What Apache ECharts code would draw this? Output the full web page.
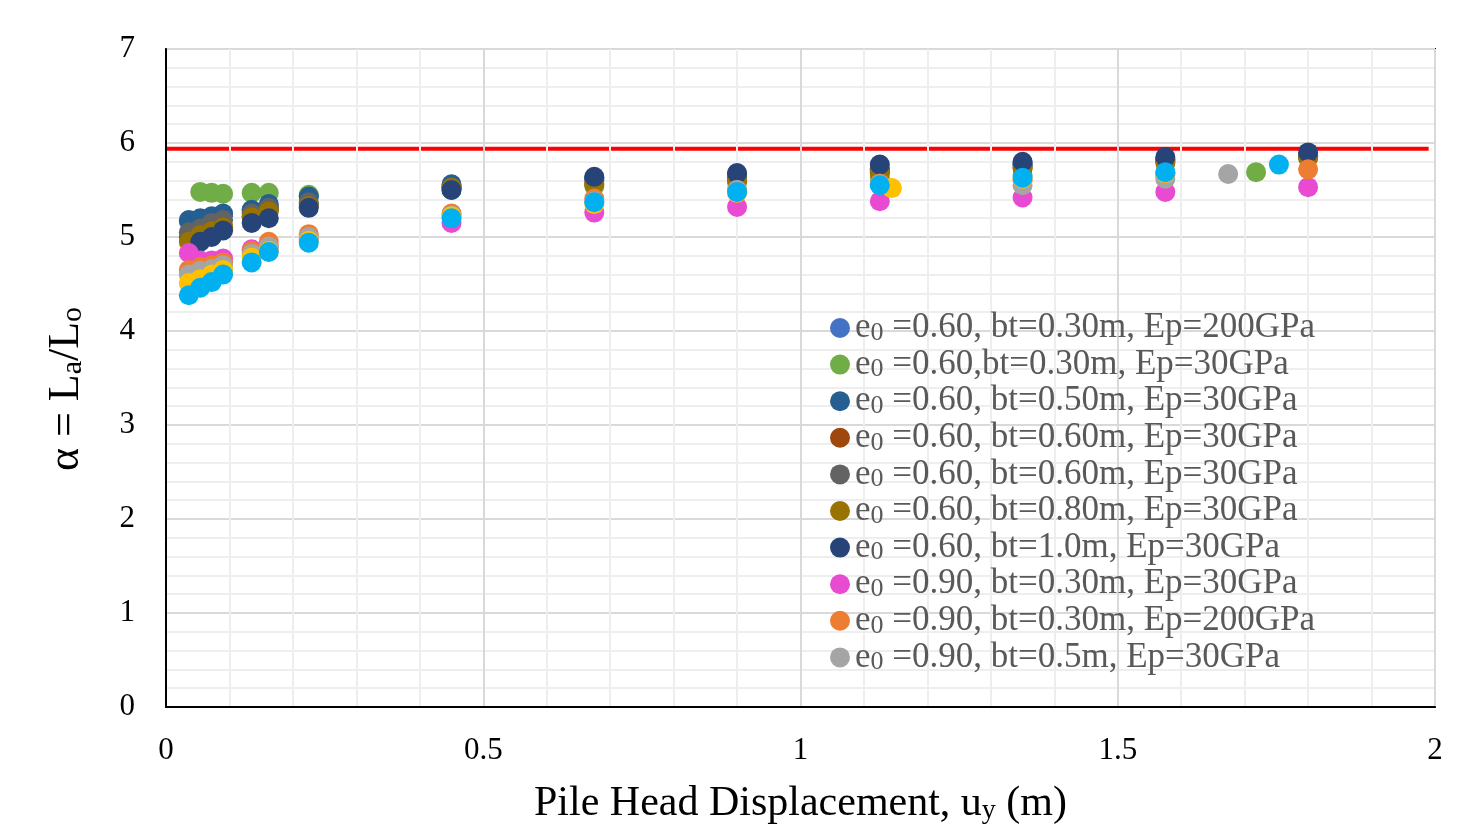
<!DOCTYPE html>
<html><head><meta charset="utf-8">
<script src="https://cdn.jsdelivr.net/npm/echarts@6/dist/echarts.min.js"></script>
<style>html,body{margin:0;padding:0;background:#fff}#c{width:1477px;height:824px}</style>
</head><body><div id="c"></div>
<script>
// shared displacement values (m)
const X = [0.036, 0.054, 0.072, 0.09, 0.135, 0.162, 0.225, 0.45, 0.675, 0.9, 1.125, 1.35, 1.575, 1.8];
const X_green  = [0.054, 0.072, 0.09, 0.135, 0.162, 0.225, 0.45, 0.675, 0.9, 1.125, 1.35, 1.575, 1.718];
const X_navy   = [0.054, 0.072, 0.09, 0.135, 0.162, 0.225, 0.45, 0.675, 0.9, 1.125, 1.35, 1.575, 1.8];
const X_lgrey  = [0.036, 0.054, 0.072, 0.09, 0.135, 0.162, 0.225, 0.45, 0.675, 0.9, 1.125, 1.35, 1.575, 1.674];
const X_yellow = [0.036, 0.054, 0.072, 0.09, 0.135, 0.162, 0.225, 0.45, 0.675, 0.9, 1.144, 1.35, 1.575];
const X_cyan   = [0.036, 0.054, 0.072, 0.09, 0.135, 0.162, 0.225, 0.45, 0.675, 0.9, 1.125, 1.35, 1.575, 1.754];

// alpha = La/Lo values
const Y_blue200  = [5.17, 5.17, 5.19, 5.22, 5.28, 5.32, 5.43, 5.54, 5.62, 5.66, 5.72, 5.77, 5.82, 5.86];
const Y_green    = [5.48, 5.47, 5.46, 5.47, 5.47, 5.45, 5.50, 5.54, 5.58, 5.63, 5.66, 5.68, 5.69];
const Y_dblue    = [5.18, 5.20, 5.22, 5.25, 5.29, 5.35, 5.43, 5.56, 5.63, 5.67, 5.73, 5.78, 5.83, 5.87];
const Y_brown    = [5.00, 5.03, 5.06, 5.10, 5.22, 5.29, 5.35, 5.52, 5.57, 5.62, 5.69, 5.74, 5.80, 5.85];
const Y_dgrey    = [5.05, 5.09, 5.15, 5.18, 5.25, 5.31, 5.37, 5.53, 5.60, 5.64, 5.71, 5.76, 5.82, 5.86];
const Y_olive    = [4.95, 5.02, 5.06, 5.10, 5.21, 5.27, 5.33, 5.52, 5.56, 5.60, 5.68, 5.73, 5.79, 5.84];
const Y_navy     = [4.95, 5.00, 5.07, 5.15, 5.20, 5.31, 5.50, 5.64, 5.68, 5.77, 5.80, 5.85, 5.90];
const Y_magenta  = [4.83, 4.75, 4.75, 4.77, 4.87, 4.90, 4.98, 5.15, 5.26, 5.32, 5.38, 5.42, 5.48, 5.53];
const Y_orange   = [4.65, 4.68, 4.70, 4.73, 4.85, 4.95, 5.03, 5.25, 5.41, 5.50, 5.57, 5.60, 5.66, 5.72];
const Y_lgrey    = [4.60, 4.64, 4.66, 4.70, 4.82, 4.90, 5.00, 5.23, 5.38, 5.50, 5.56, 5.55, 5.62, 5.67];
const Y_yellow   = [4.51, 4.55, 4.60, 4.65, 4.78, 4.85, 4.96, 5.22, 5.35, 5.47, 5.52, 5.62, 5.68];
const Y_cyan     = [4.38, 4.46, 4.52, 4.60, 4.73, 4.84, 4.94, 5.20, 5.37, 5.48, 5.55, 5.63, 5.69, 5.77];

// limit line
const LIMIT_X = [0, 1.99];
const LIMIT_Y = 5.94;

const LABELS = [
  '=0.60, bt=0.30m, Ep=200GPa',
  '=0.60,bt=0.30m, Ep=30GPa',
  '=0.60, bt=0.50m, Ep=30GPa',
  '=0.60, bt=0.60m, Ep=30GPa',
  '=0.60, bt=0.60m, Ep=30GPa',
  '=0.60, bt=0.80m, Ep=30GPa',
  '=0.60, bt=1.0m, Ep=30GPa',
  '=0.90, bt=0.30m, Ep=30GPa',
  '=0.90, bt=0.30m, Ep=200GPa',
  '=0.90, bt=0.5m, Ep=30GPa',
  'extra series 11',
  'extra series 12'
];
const COLORS = ['#4472C4','#70AD47','#255E91','#9E480E','#636363','#997300','#264478','#E84BD2','#ED7D31','#A5A5A5','#FFC000','#00B0F0'];
const XS = [X, X_green, X, X, X, X, X_navy, X, X, X_lgrey, X_yellow, X_cyan];
const YS = [Y_blue200, Y_green, Y_dblue, Y_brown, Y_dgrey, Y_olive, Y_navy, Y_magenta, Y_orange, Y_lgrey, Y_yellow, Y_cyan];

const names = LABELS.map((l, i) => 'e0 ' + l + '\u200b'.repeat(i));
const serif = 'Liberation Serif, Times New Roman, serif';

const series = [{
  type: 'line',
  data: LIMIT_X.map(x => [x, LIMIT_Y]),
  symbol: 'none',
  lineStyle: { color: '#FF0000', width: 4 },
  z: 1, silent: true
}];
names.forEach((n, i) => {
  series.push({
    name: n,
    type: 'scatter',
    symbol: 'circle',
    symbolSize: 20,
    itemStyle: { color: COLORS[i], opacity: 1 },
    data: XS[i].map((x, k) => [x, YS[i][k]]),
    z: 2 + i
  });
});

const frameAxis = {
  axisLine: { show: true, onZero: false, lineStyle: { color: '#000', width: 2 } },
  axisTick: { show: false }, axisLabel: { show: false },
  splitLine: { show: false }
};

const chart = echarts.init(document.getElementById('c'), null, { renderer: 'canvas' });
chart.setOption({
  animation: false,
  backgroundColor: '#ffffff',
  grid: { left: 166, right: 42, top: 49, bottom: 117, containLabel: false, outerBoundsMode: 'none' },
  legend: {
    data: names.slice(0, 10),
    orient: 'vertical',
    left: 825, top: 305,
    itemWidth: 20, itemHeight: 20, itemGap: 0.6,
    icon: 'circle',
    formatter: n => 'e{sub|0} ' + n.replace(/^e0 /, '').replace(/\u200b/g, ''),
    textStyle: {
      fontFamily: serif, fontSize: 35, color: '#595959', lineHeight: 36,
      rich: { sub: { fontFamily: serif, fontSize: 26, color: '#595959', lineHeight: 20, verticalAlign: 'bottom' } }
    }
  },
  xAxis: [{
    type: 'value', min: 0, max: 2, interval: 0.5,
    name: 'Pile Head Displacement, u{sub|y} (m)',
    nameLocation: 'middle', nameGap: 76,
    nameTextStyle: { fontFamily: serif, fontSize: 42, color: '#000',
      rich: { sub: { fontFamily: serif, fontSize: 28, color: '#000', lineHeight: 30, verticalAlign: 'bottom' } } },
    axisLine: { show: true, lineStyle: { color: '#000', width: 2 } },
    axisTick: { show: false },
    axisLabel: { fontFamily: serif, fontSize: 31, color: '#000', margin: 28 },
    splitLine: { show: true, lineStyle: { color: '#d9d9d9', width: 2 } },
    minorTick: { show: false, splitNumber: 5 },
    minorSplitLine: { show: true, lineStyle: { color: '#eeeeee', width: 2 } },
    z: 3
  }, Object.assign({ type: 'value', min: 0, max: 2, position: 'top' }, frameAxis)],
  yAxis: [{
    type: 'value', min: 0, max: 7, interval: 1,
    name: 'α = L{sub|a}/L{sub|o}',
    nameLocation: 'middle', nameGap: 78,
    nameTextStyle: { fontFamily: serif, fontSize: 44, color: '#000', padding: [0, 22, 0, 0],
      rich: { sub: { fontFamily: serif, fontSize: 30, color: '#000', lineHeight: 30, verticalAlign: 'bottom' } } },
    axisLine: { show: true, lineStyle: { color: '#000', width: 2 } },
    axisTick: { show: false },
    axisLabel: { fontFamily: serif, fontSize: 31, color: '#000', margin: 31 },
    splitLine: { show: true, lineStyle: { color: '#d9d9d9', width: 2 } },
    minorTick: { show: false, splitNumber: 5 },
    minorSplitLine: { show: true, lineStyle: { color: '#eeeeee', width: 2 } },
    z: 3
  }, Object.assign({ type: 'value', min: 0, max: 7, position: 'right' }, frameAxis)],
  series: series
});
</script>
</body></html>
